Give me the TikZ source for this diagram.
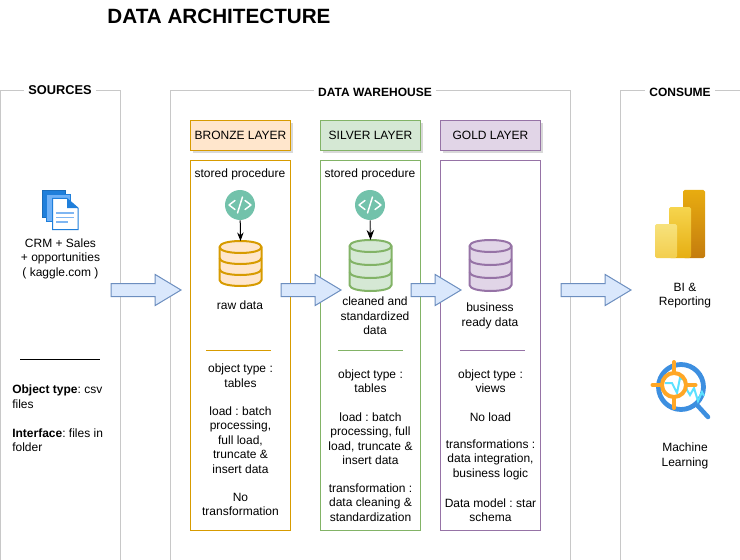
\documentclass[tikz,border=0pt]{standalone}
\usepackage{fontspec}
\setmainfont{Liberation Sans}
\usetikzlibrary{arrows.meta, positioning, shapes, shadows}

\definecolor{bronzefill}{HTML}{FFE6CC}
\definecolor{bronzeline}{HTML}{D79B00}
\definecolor{silverfill}{HTML}{D5E8D4}
\definecolor{silverline}{HTML}{82B366}
\definecolor{goldfill}{HTML}{E1D5E7}
\definecolor{goldline}{HTML}{9673A6}
\definecolor{flowfill}{HTML}{DAE8FC}
\definecolor{flowline}{HTML}{6C8EBF}
\definecolor{framegray}{HTML}{C8C8C8}
\definecolor{codeteal}{HTML}{73C2AB}
\definecolor{sheetdark}{HTML}{1F7FDB}
\definecolor{sheetmid}{HTML}{6FB1F7}
\definecolor{sheetline}{HTML}{7FB6F2}
\definecolor{barone}{HTML}{E8AC10}
\definecolor{bartwo}{HTML}{C47C0E}
\definecolor{barthree}{HTML}{F6D54E}
\definecolor{barfour}{HTML}{E6AE12}
\definecolor{barfive}{HTML}{F7E27C}
\definecolor{barsix}{HTML}{F3CE4E}
\definecolor{lensblue}{HTML}{3D8FE0}
\definecolor{lensorange}{HTML}{FFA726}
\definecolor{lenscyan}{HTML}{5CE1FF}

\tikzset{
    plain text/.style={font=\fontsize{9}{10.8}\selectfont\frenchspacing, align=center, inner sep=0pt, yshift=-0.4pt},
    left text/.style={plain text, align=left, anchor=west},
    thin rule/.style={line width=0.75pt},
    frame line/.style={draw=framegray, line width=0.75pt},
    frame label/.style={font=\fontsize{9}{10.8}\selectfont\bfseries, fill=white, inner sep=3pt},
    layer head/.style={draw=#1line, fill=#1fill, line width=0.75pt, minimum width=75pt, minimum height=22.5pt,
        inner sep=0pt, font=\fontsize{9}{10.8}\selectfont,
        drop shadow={opacity=0.3, shadow xshift=2pt, shadow yshift=-2pt}},
    layer box/.style={draw=#1line, line width=0.75pt, minimum width=75pt, minimum height=277.5pt, inner sep=0pt},
    code icon/.style={circle, fill=codeteal, minimum size=22.5pt, inner sep=0pt},
    flow arrow/.style={single arrow, draw=flowline, fill=flowfill, line width=0.75pt, inner sep=0pt,
        text height=9pt, text depth=0pt, text width=0pt, anchor=tail,
        minimum height=#1, single arrow head extend=6.75pt, single arrow tip angle=62},
    pics/dbstack/.style n args={3}{code={
        \coordinate (-top) at (0,0);
        \draw[draw=#2, fill=#1, line width=1.5pt] (-21,6) .. controls (-21,-2) and (21,-2) .. (21,6)
            -- (21,#3-6) .. controls (21,#3+2) and (-21,#3+2) .. (-21,#3-6) -- cycle;
        \foreach \k in {0,1,2}
            \draw[draw=#2, line width=1.5pt] (-21,{6+\k*(#3-12)/3}) .. controls (-21,{14+\k*(#3-12)/3}) and (21,{14+\k*(#3-12)/3}) .. (21,{6+\k*(#3-12)/3});
    }},
    pics/codemark/.style={code={
        \draw[white, line width=1.1pt, line cap=round, line join=round] (-5,-4.5) -- (-11,0) -- (-5,4.5);
        \draw[white, line width=1.1pt, line cap=round, line join=round] (5,-4.5) -- (11,0) -- (5,4.5);
        \draw[white, line width=1.1pt, line cap=round] (2.5,-8) -- (-2.5,8);
    }}
}

\begin{document}
\begin{tikzpicture}[x=0.75pt, y=-0.75pt]
    \useasboundingbox (0,0) rectangle (740,560);

    \node[font=\fontsize{15.5}{18}\selectfont\bfseries, inner sep=0pt] (title) at (219,16) {DATA ARCHITECTURE};

    % outer frames
    \draw[frame line] (0.5,560) -- (0.5,90.5) -- (120.5,90.5) -- (120.5,560);
    \draw[frame line] (170.5,560) -- (170.5,90.5) -- (570.5,90.5) -- (570.5,560);
    \draw[frame line] (620.5,560) -- (620.5,90.5) -- (740,90.5);
    \node[frame label, font=\fontsize{9.6}{10.8}\selectfont\bfseries] (sourcestitle) at (60,90) {SOURCES};
    \node[frame label] (warehousetitle) at (375,92) {DATA WAREHOUSE};
    \node[frame label] (consumetitle) at (680,92) {CONSUME};

    % layers
    \node[layer head=bronze] (bronzehead) at (240.5,135.5) {BRONZE LAYER};
    \node[layer head=silver] (silverhead) at (370.5,135.5) {SILVER LAYER};
    \node[layer head=gold] (goldhead) at (490.5,135.5) {GOLD LAYER};
    \node[layer box=bronze] (bronzebox) at (240.5,345.5) {};
    \node[layer box=silver] (silverbox) at (370.5,345.5) {};
    \node[layer box=gold] (goldbox) at (490.5,345.5) {};

    % sources
    \draw[fill=sheetdark, draw=sheetdark!85!black] (42.5,190.5) rectangle (65,217);
    \draw[fill=sheetmid, draw=sheetdark] (46.5,194.5) rectangle (70,221);
    \draw[fill=white, draw=sheetdark, line width=0.75pt] (52.5,198.5) -- (67,198.5) -- (78,208) -- (78,229.5) -- (52.5,229.5) -- cycle;
    \fill[sheetdark] (67,198.5) -- (78,208) -- (67,208) -- cycle;
    \draw[sheetline, line width=1.3pt] (56,213) -- (74,213) (56,217.5) -- (74,217.5) (56,222) -- (67.5,222);
    \node[plain text] (sourcetext) at (60.5,258) {CRM + Sales\\+ opportunities\\( kaggle.com )};
    \draw[black, thin rule] (20,359) -- (100,359);
    \node[left text] (objecttext) at (12,396) {\textbf{Object type}: csv\\files};
    \node[left text] (interfacetext) at (12,439.5) {\textbf{Interface}: files in\\folder};

    % bronze
    \node[plain text] (bronzeproc) at (240,174) {stored procedure};
    \node[code icon] (bronzecode) at (240,205) {};
    \pic at (240,205) {codemark};
    \pic (bronzedb) at (240.5,241) {dbstack={bronzefill}{bronzeline}{45}};
    \draw[-{Stealth}, black, line width=0.75pt] (bronzecode) -- (bronzedb-top);
    \node[plain text] (bronzename) at (240,305) {raw data};
    \draw[bronzeline, thin rule] (206,350.5) -- (271,350.5);
    \node[plain text] (bronzetype) at (240.5,375) {object type :\\tables};
    \node[plain text] (bronzeload) at (240.5,439.5) {load : batch\\processing,\\full load,\\truncate \&\\insert data};
    \node[plain text] (bronzetrans) at (240.5,504) {No\\transformation};

    % silver
    \node[plain text] (silverproc) at (370,174) {stored procedure};
    \node[code icon] (silvercode) at (370,205) {};
    \pic at (370,205) {codemark};
    \pic (silverdb) at (370.5,240) {dbstack={silverfill}{silverline}{51}};
    \draw[-{Stealth[black]}, black!65, line width=1pt] (silvercode) -- (silverdb-top);
    \node[plain text] (silvername) at (375,315.5) {cleaned and\\standardized\\data};
    \draw[silverline, thin rule] (338,350.5) -- (403,350.5);
    \node[plain text] (silvertype) at (370.5,380.5) {object type :\\tables};
    \node[plain text] (silverload) at (370.5,438) {load : batch\\processing, full\\load, truncate \&\\insert data};
    \node[plain text] (silvertrans) at (370.5,502) {transformation :\\data cleaning \&\\standardization};

    % gold
    \pic (golddb) at (490.5,240) {dbstack={goldfill}{goldline}{51}};
    \node[plain text] (goldname) at (490,315.5) {business\\ready data};
    \draw[goldline, thin rule] (460,350.5) -- (525,350.5);
    \node[plain text] (goldtype) at (490.5,380.5) {object type :\\views};
    \node[plain text] (goldload) at (490.5,417) {No load};
    \node[plain text] (goldtrans) at (490.5,459) {transformations :\\data integration,\\business logic};
    \node[plain text] (goldmodel) at (490.5,509.5) {Data model : star\\schema};

    % flow between stages
    \node[flow arrow=52.5pt] (flowa) at (110.5,290) {};
    \node[flow arrow=45pt] (flowb) at (280.5,290) {};
    \node[flow arrow=37.5pt] (flowc) at (410.5,290) {};
    \node[flow arrow=52.5pt] (flowd) at (560.5,290) {};

    % consume
    \shade[top color=barone, bottom color=bartwo, rounded corners=1.2pt] (683,190) rectangle (705,258);
    \shade[top color=barthree, bottom color=barfour, rounded corners=1.2pt] (669,207) rectangle (691,258);
    \shade[top color=barfive, bottom color=barsix, rounded corners=1.2pt] (655,224) rectangle (677,258);
    \node[plain text] (bitext) at (685,295) {BI \&\\Reporting};

    \draw[lensblue, line width=3.6pt] (681,387) circle (22.5);
    \draw[lensblue, line width=3.4pt, line cap=round] (697,405) -- (708,417);
    \draw[lenscyan, line width=1.5pt] (665,383) -- (672,383) -- (677,393) -- (680,378) -- (684,380) -- (687,390) -- (690,395) -- (694,388) -- (698,401) -- (702,392) -- (704,396);
    \draw[lensorange, line width=3pt] (674,385) circle (12);
    \draw[lensorange, line width=3pt, line cap=round] (652.5,385) -- (662,385) (686,385) -- (695.5,385) (674,362) -- (674,373) (674,397) -- (674,408);
    \node[plain text] (mltext) at (685,455.5) {Machine\\Learning};
\end{tikzpicture}
\end{document}
